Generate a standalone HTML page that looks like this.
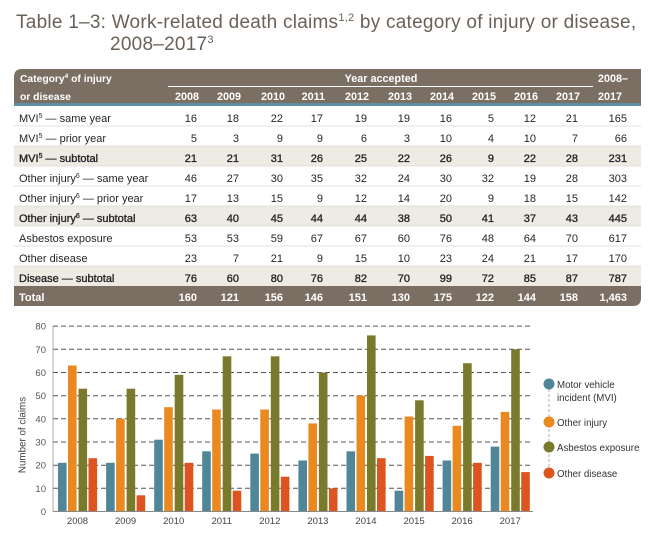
<!DOCTYPE html>
<html><head><meta charset="utf-8"><style>
html,body{margin:0;padding:0;background:#fff;}
svg{display:block;}
text{font-family:"Liberation Sans",sans-serif;}
</style></head><body>
<svg width="656" height="543" viewBox="0 0 656 543" xmlns="http://www.w3.org/2000/svg">
<!-- Title -->
<text x="16" y="28" font-size="19" letter-spacing="0.25" fill="#6a6158">Table 1–3: Work-related death claims<tspan font-size="11" dy="-7">1,2</tspan><tspan dy="7"> by category of injury or disease,</tspan></text>
<text x="110" y="50" font-size="19" letter-spacing="0.25" fill="#6a6158">2008–2017<tspan font-size="11" dy="-7">3</tspan></text>

<!-- Table header -->
<path d="M14,103 L14,77 Q14,69 22,69 L641,69 L641,103 Z" fill="#7b6f63"/>
<rect x="14" y="103" width="627" height="3" fill="#5b8ea0"/>
<g fill="#fff" font-weight="bold" font-size="10.3">
<text x="20" y="82">Category<tspan font-size="6.5" dy="-4">4</tspan><tspan dy="4"> of injury</tspan></text>
<text x="20" y="100">or disease</text>
<text x="381" y="82" text-anchor="middle" font-size="10.8">Year accepted</text>
<text x="598" y="82" font-size="10.8">2008–</text>
<text x="598" y="100" font-size="10.8">2017</text>
<g text-anchor="end" font-size="10.8">
<text x="199" y="100">2008</text><text x="241" y="100">2009</text><text x="285" y="100">2010</text><text x="325" y="100">2011</text><text x="369" y="100">2012</text><text x="412" y="100">2013</text><text x="454" y="100">2014</text><text x="496" y="100">2015</text><text x="538" y="100">2016</text><text x="580" y="100">2017</text>
</g>
</g>
<line x1="168" y1="86.5" x2="593" y2="86.5" stroke="#fff" stroke-width="1"/>

<!-- Row shading -->
<rect x="14" y="146" width="627" height="20" fill="#eeebe5"/>
<rect x="14" y="206" width="627" height="20" fill="#eeebe5"/>
<rect x="14" y="266" width="627" height="20" fill="#eeebe5"/>
<g stroke="#dcd8d2" stroke-width="0.8">
<line x1="14" y1="126" x2="641" y2="126"/>
<line x1="14" y1="146" x2="641" y2="146"/>
<line x1="14" y1="166" x2="641" y2="166"/>
<line x1="14" y1="186" x2="641" y2="186"/>
<line x1="14" y1="206" x2="641" y2="206"/>
<line x1="14" y1="226" x2="641" y2="226"/>
<line x1="14" y1="246" x2="641" y2="246"/>
<line x1="14" y1="266" x2="641" y2="266"/>
</g>
<!-- Total row -->
<path d="M14,286 L641,286 L641,298 Q641,306 633,306 L14,306 Z" fill="#7b6f63"/>

<g font-size="11" fill="#262626">
<!-- labels -->
<text x="19" y="122">MVI<tspan font-size="7" dy="-4">5</tspan><tspan dy="4"> — same year</tspan></text>
<text x="19" y="142">MVI<tspan font-size="7" dy="-4">5</tspan><tspan dy="4"> — prior year</tspan></text>
<text x="19" y="162" stroke="#262626" stroke-width="0.35">MVI<tspan font-size="7" dy="-4">5</tspan><tspan dy="4"> — subtotal</tspan></text>
<text x="19" y="182">Other injury<tspan font-size="7" dy="-4">6</tspan><tspan dy="4"> — same year</tspan></text>
<text x="19" y="202">Other injury<tspan font-size="7" dy="-4">6</tspan><tspan dy="4"> — prior year</tspan></text>
<text x="19" y="222" stroke="#262626" stroke-width="0.35">Other injury<tspan font-size="7" dy="-4">6</tspan><tspan dy="4"> — subtotal</tspan></text>
<text x="19" y="242">Asbestos exposure</text>
<text x="19" y="262">Other disease</text>
<text x="19" y="282" stroke="#262626" stroke-width="0.35">Disease — subtotal</text>

<g text-anchor="end">
<g transform="translate(0,122)"><text x="197">16</text><text x="239">18</text><text x="283">22</text><text x="323">17</text><text x="367">19</text><text x="410">19</text><text x="452">16</text><text x="494">5</text><text x="536">12</text><text x="578">21</text><text x="627">165</text></g>
<g transform="translate(0,142)"><text x="197">5</text><text x="239">3</text><text x="283">9</text><text x="323">9</text><text x="367">6</text><text x="410">3</text><text x="452">10</text><text x="494">4</text><text x="536">10</text><text x="578">7</text><text x="627">66</text></g>
<g transform="translate(0,162)" stroke="#262626" stroke-width="0.35"><text x="197">21</text><text x="239">21</text><text x="283">31</text><text x="323">26</text><text x="367">25</text><text x="410">22</text><text x="452">26</text><text x="494">9</text><text x="536">22</text><text x="578">28</text><text x="627">231</text></g>
<g transform="translate(0,182)"><text x="197">46</text><text x="239">27</text><text x="283">30</text><text x="323">35</text><text x="367">32</text><text x="410">24</text><text x="452">30</text><text x="494">32</text><text x="536">19</text><text x="578">28</text><text x="627">303</text></g>
<g transform="translate(0,202)"><text x="197">17</text><text x="239">13</text><text x="283">15</text><text x="323">9</text><text x="367">12</text><text x="410">14</text><text x="452">20</text><text x="494">9</text><text x="536">18</text><text x="578">15</text><text x="627">142</text></g>
<g transform="translate(0,222)" stroke="#262626" stroke-width="0.35"><text x="197">63</text><text x="239">40</text><text x="283">45</text><text x="323">44</text><text x="367">44</text><text x="410">38</text><text x="452">50</text><text x="494">41</text><text x="536">37</text><text x="578">43</text><text x="627">445</text></g>
<g transform="translate(0,242)"><text x="197">53</text><text x="239">53</text><text x="283">59</text><text x="323">67</text><text x="367">67</text><text x="410">60</text><text x="452">76</text><text x="494">48</text><text x="536">64</text><text x="578">70</text><text x="627">617</text></g>
<g transform="translate(0,262)"><text x="197">23</text><text x="239">7</text><text x="283">21</text><text x="323">9</text><text x="367">15</text><text x="410">10</text><text x="452">23</text><text x="494">24</text><text x="536">21</text><text x="578">17</text><text x="627">170</text></g>
<g transform="translate(0,282)" stroke="#262626" stroke-width="0.35"><text x="197">76</text><text x="239">60</text><text x="283">80</text><text x="323">76</text><text x="367">82</text><text x="410">70</text><text x="452">99</text><text x="494">72</text><text x="536">85</text><text x="578">87</text><text x="627">787</text></g>
</g>
</g>
<g font-size="11" fill="#fff" font-weight="bold">
<text x="19" y="301">Total</text>
<g text-anchor="end" transform="translate(0,301)"><text x="197">160</text><text x="239">121</text><text x="283">156</text><text x="323">146</text><text x="367">151</text><text x="410">130</text><text x="452">175</text><text x="494">122</text><text x="536">144</text><text x="578">158</text><text x="627">1,463</text></g>
</g>

<!-- Chart gridlines -->
<g stroke="#555" stroke-width="1" stroke-dasharray="5,3">
<line x1="53" y1="488.3" x2="533" y2="488.3"/>
<line x1="53" y1="465.2" x2="533" y2="465.2"/>
<line x1="53" y1="442.0" x2="533" y2="442.0"/>
<line x1="53" y1="418.8" x2="533" y2="418.8"/>
<line x1="53" y1="395.7" x2="533" y2="395.7"/>
<line x1="53" y1="372.5" x2="533" y2="372.5"/>
<line x1="53" y1="349.3" x2="533" y2="349.3"/>
<line x1="53" y1="326.1" x2="533" y2="326.1"/>
</g>
<line x1="53" y1="326" x2="53" y2="511.5" stroke="#999" stroke-width="0.8"/>
<g font-size="9.5" fill="#555" text-anchor="end">
<text x="46" y="515">0</text><text x="46" y="491.8">10</text><text x="46" y="468.7">20</text><text x="46" y="445.5">30</text><text x="46" y="422.3">40</text><text x="46" y="399.2">50</text><text x="46" y="376">60</text><text x="46" y="352.8">70</text><text x="46" y="329.6">80</text>
</g>
<text transform="translate(25.5,435) rotate(-90)" font-size="9.8" fill="#444" text-anchor="middle">Number of claims</text>

<!-- Bars: MVI -->
<g fill="#4f8798">
<rect x="58" y="462.8" width="8.6" height="48.7"/>
<rect x="106.1" y="462.8" width="8.6" height="48.7"/>
<rect x="154.2" y="439.7" width="8.6" height="71.8"/>
<rect x="202.2" y="451.3" width="8.6" height="60.2"/>
<rect x="250.3" y="453.6" width="8.6" height="57.9"/>
<rect x="298.4" y="460.5" width="8.6" height="51"/>
<rect x="346.5" y="451.3" width="8.6" height="60.2"/>
<rect x="394.6" y="490.7" width="8.6" height="20.8"/>
<rect x="442.6" y="460.5" width="8.6" height="51"/>
<rect x="490.7" y="446.6" width="8.6" height="64.9"/>
</g>
<!-- Other injury -->
<g fill="#e9891f">
<rect x="68" y="365.5" width="8.6" height="146"/>
<rect x="116.1" y="418.8" width="8.6" height="92.7"/>
<rect x="164.2" y="407.2" width="8.6" height="104.3"/>
<rect x="212.2" y="409.5" width="8.6" height="102"/>
<rect x="260.3" y="409.5" width="8.6" height="102"/>
<rect x="308.4" y="423.4" width="8.6" height="88.1"/>
<rect x="356.5" y="395.7" width="8.6" height="115.8"/>
<rect x="404.6" y="416.5" width="8.6" height="95"/>
<rect x="452.6" y="425.8" width="8.6" height="85.7"/>
<rect x="500.7" y="411.9" width="8.6" height="99.6"/>
</g>
<!-- Asbestos -->
<g fill="#7a7a2c">
<rect x="78.5" y="388.7" width="8.6" height="122.8"/>
<rect x="126.6" y="388.7" width="8.6" height="122.8"/>
<rect x="174.7" y="374.8" width="8.6" height="136.7"/>
<rect x="222.7" y="356.3" width="8.6" height="155.2"/>
<rect x="270.8" y="356.3" width="8.6" height="155.2"/>
<rect x="318.9" y="372.5" width="8.6" height="139"/>
<rect x="367" y="335.4" width="8.6" height="176.1"/>
<rect x="415.1" y="400.3" width="8.6" height="111.2"/>
<rect x="463.1" y="363.2" width="8.6" height="148.3"/>
<rect x="511.2" y="349.3" width="8.6" height="162.2"/>
</g>
<!-- Other disease -->
<g fill="#de5420">
<rect x="88.5" y="458.2" width="8.6" height="53.3"/>
<rect x="136.6" y="495.3" width="8.6" height="16.2"/>
<rect x="184.7" y="462.8" width="8.6" height="48.7"/>
<rect x="232.7" y="490.7" width="8.6" height="20.8"/>
<rect x="280.8" y="476.7" width="8.6" height="34.8"/>
<rect x="328.9" y="488.3" width="8.6" height="23.2"/>
<rect x="377" y="458.2" width="8.6" height="53.3"/>
<rect x="425.1" y="455.9" width="8.6" height="55.6"/>
<rect x="473.1" y="462.8" width="8.6" height="48.7"/>
<rect x="521.2" y="472.1" width="8.6" height="39.4"/>
</g>
<line x1="53" y1="511.5" x2="533" y2="511.5" stroke="#888" stroke-width="1"/>
<g font-size="9.5" fill="#444" text-anchor="middle">
<text x="77.5" y="524">2008</text><text x="125.6" y="524">2009</text><text x="173.7" y="524">2010</text><text x="221.7" y="524">2011</text><text x="269.8" y="524">2012</text><text x="317.9" y="524">2013</text><text x="366" y="524">2014</text><text x="414.1" y="524">2015</text><text x="462.1" y="524">2016</text><text x="510.2" y="524">2017</text>
</g>

<!-- Legend -->
<line x1="549" y1="384" x2="549" y2="473" stroke="#999" stroke-width="0.8" stroke-dasharray="3,2"/>
<circle cx="549" cy="384" r="5.5" fill="#4f8798"/>
<circle cx="549" cy="422" r="5.5" fill="#e9891f"/>
<circle cx="549" cy="447" r="5.5" fill="#7a7a2c"/>
<circle cx="549" cy="473" r="5.5" fill="#de5420"/>
<g font-size="9.7" fill="#333">
<text x="557" y="388">Motor vehicle</text>
<text x="557" y="401">incident (MVI)</text>
<text x="557" y="426">Other injury</text>
<text x="557" y="451">Asbestos exposure</text>
<text x="557" y="477">Other disease</text>
</g>
</svg>
</body></html>
